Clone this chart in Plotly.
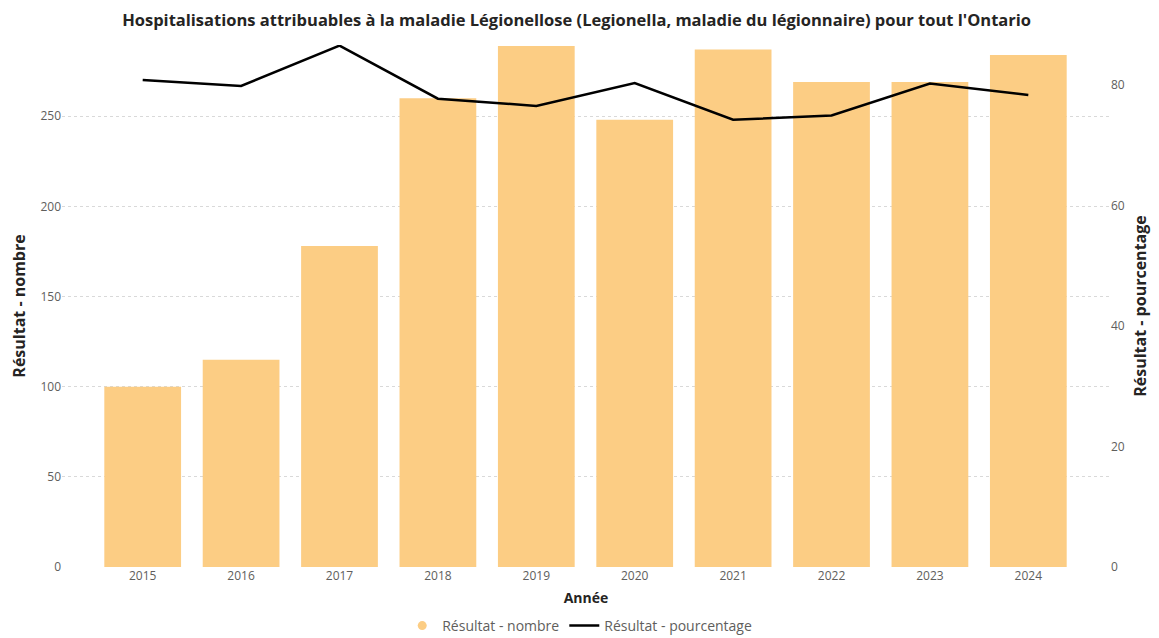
import plotly.graph_objects as go

years = ["2015", "2016", "2017", "2018", "2019", "2020", "2021", "2022", "2023", "2024"]
nombre = [100, 115, 178, 260, 289, 248, 287, 269, 269, 284]
pourcentage = [80.8, 79.8, 86.5, 77.7, 76.5, 80.3, 74.2, 74.9, 80.2, 78.3]

bar_color = "#FCCD84"
font_family = "Open Sans, Lato, DejaVu Sans, sans-serif"

fig = go.Figure()
fig.add_trace(go.Bar(
    x=years, y=nombre, name="Résultat - nombre",
    marker=dict(color=bar_color, line=dict(width=0)),
    showlegend=False, yaxis="y",
))
# legend proxy with circular marker
fig.add_trace(go.Scatter(
    x=[None], y=[None], mode="markers", name="Résultat - nombre",
    marker=dict(color=bar_color, size=9, symbol="circle"), yaxis="y",
))
fig.add_trace(go.Scatter(
    x=years, y=pourcentage, name="Résultat - pourcentage", mode="lines",
    line=dict(color="#000000", width=2.5), yaxis="y2",
))

fig.update_layout(
    width=1151, height=630,
    margin=dict(l=54, r=49, t=37, b=71, autoexpand=False),
    paper_bgcolor="white", plot_bgcolor="white",
    font=dict(family=font_family, color="#605E5C", size=12),
    title=dict(
        text="<b>Hospitalisations attribuables à la maladie Légionellose (Legionella, maladie du légionnaire) pour tout l'Ontario</b>",
        x=0.494, xanchor="center", y=1 - 12 / 630, yanchor="middle",
        font=dict(size=16.5, color="#252423", family=font_family),
    ),
    bargap=0.22,
    xaxis=dict(
        type="category", range=[-0.82, 9.83], automargin=False,
        showgrid=False, showline=False, zeroline=False,
        ticks="", tickfont=dict(size=12, color="#605E5C"),
        title=dict(text="<b>Année</b>", font=dict(size=14, color="#252423"), standoff=10),
    ),
    yaxis=dict(
        range=[0, 289.5], tickvals=[0, 50, 100, 150, 200, 250], automargin=False,
        showgrid=True, gridcolor="#D9D9D9", griddash="dot", gridwidth=1,
        zeroline=False, showline=False, ticks="",
        tickfont=dict(size=12, color="#605E5C"),
        title=dict(text="<b>Résultat - nombre</b>", font=dict(size=16, color="#252423"), standoff=18),
    ),
    yaxis2=dict(
        overlaying="y", side="right", range=[0, 86.6], automargin=False,
        tickvals=[0, 20, 40, 60, 80],
        showgrid=False, zeroline=False, showline=False, ticks="",
        tickfont=dict(size=12, color="#605E5C"),
        title=dict(text="<b>Résultat - pourcentage</b>", font=dict(size=16, color="#252423"), standoff=10),
    ),
    legend=dict(
        orientation="h", x=0.494, xanchor="center",
        yref="container", y=(630 - 618) / 630, yanchor="middle",
        font=dict(size=14, color="#605E5C"), traceorder="normal",
        itemwidth=30,
    ),
)

fig.write_html("out.html")
